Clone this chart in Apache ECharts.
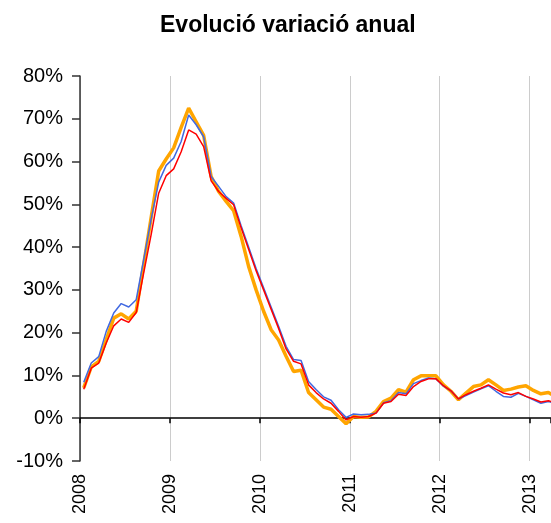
<!DOCTYPE html>
<html>
<head>
<meta charset="utf-8">
<script src="https://cdn.jsdelivr.net/npm/echarts@6/dist/echarts.min.js"></script>
<style>
html,body{margin:0;padding:0;background:#fff;}
#chart{width:551px;height:523px;}
</style>
</head>
<body>
<div id="chart"></div>
<script>
// Monthly values, Jan 2008 .. Apr 2013 (percent)
var yearLabels = ['2008','2009','2010','2011','2012','2013'];
var blueValues = [8.4,12.9,14.4,20.3,24.6,26.8,26.0,27.7,37.1,46.6,
  55.2,59.1,60.8,64.7,70.9,68.6,65.8,56.5,54.2,51.8,
  50.3,45.0,40.0,35.0,30.5,26.0,21.5,16.8,13.7,13.5,
  8.6,6.7,5.0,4.2,2.0,0.2,1.0,0.8,0.9,1.2,
  3.6,4.1,6.0,5.7,8.1,8.8,9.4,9.2,7.5,6.4,
  4.5,5.3,6.1,6.9,7.6,6.3,5.1,4.9,5.8,5.1,
  4.3,3.5,3.9,3.5];
var redValues = [6.8,11.7,12.9,17.6,21.6,23.2,22.4,24.7,34.0,43.0,
  52.6,56.7,58.3,62.3,67.4,66.4,63.5,55.5,53.0,51.4,
  49.9,44.5,39.5,34.5,30.0,25.5,21.0,16.2,13.3,12.7,
  7.8,6.0,4.5,3.5,1.6,-0.4,0.4,0.2,0.4,1.2,
  3.5,3.9,5.6,5.3,7.4,8.6,9.2,9.2,7.6,6.4,
  4.5,5.5,6.3,7.0,7.8,6.8,5.9,5.5,6.0,5.1,
  4.5,3.8,4.1,3.6];
var orangeValues = [7.1,12.0,13.3,18.3,23.4,24.4,23.2,25.0,36.0,47.0,
  57.8,60.6,63.2,68.0,72.5,69.3,66.1,56.5,53.0,50.7,
  48.5,42.5,35.5,30.0,25.0,20.7,18.3,14.5,10.9,11.2,
  6.0,4.3,2.6,2.1,0.4,-1.3,0.4,0.2,0.3,1.6,
  3.9,4.7,6.7,6.1,9.0,9.9,9.9,9.9,7.8,6.3,
  4.3,5.9,7.4,7.8,9.0,7.8,6.5,6.8,7.3,7.6,
  6.5,5.7,6.0,5.0];

function toPoints(arr){
  return arr.map(function(v,i){ return [i + 0.5, v]; });
}

var chart = echarts.init(document.getElementById('chart'), null, {renderer:'canvas'});
var font = 'Liberation Sans, Arial, Helvetica, sans-serif';
var xMax = 62.85;

chart.setOption({
  animation: false,
  backgroundColor: '#fff',
  title: {
    text: 'Evolució variació anual',
    left: 155, top: 9,
    textStyle: {fontFamily: font, fontWeight: 'bold', fontSize: 23, color: '#000'}
  },
  grid: {left: 80, right: 0, top: 76, bottom: 62},
  xAxis: [{
    type: 'value', min: 0, max: xMax, interval: 12,
    position: 'bottom',
    axisLine: {show: false, onZero: false},
    axisTick: {show: false},
    splitLine: {show: true, lineStyle: {color: '#cccccc', width: 1}},
    axisLabel: {
      rotate: 90, margin: 13, showMaxLabel: false,
      fontFamily: font, fontSize: 18, color: '#000',
      formatter: function(v){ var k = Math.round(v/12); return (Math.abs(v - k*12) < 0.01) ? yearLabels[k] : ''; }
    }
  },{
    type: 'value', min: 0, max: xMax, interval: 12,
    axisLine: {show: true, onZero: true, lineStyle: {color: '#000', width: 1.5}},
    axisTick: {show: true, inside: true, length: 5, lineStyle: {color: '#000', width: 1.5}},
    axisLabel: {show: false},
    splitLine: {show: false}
  }],
  yAxis: {
    type: 'value', min: -10, max: 80, interval: 10,
    axisLine: {show: true, lineStyle: {color: '#333', width: 1.5}},
    axisTick: {show: true, length: 8, lineStyle: {color: '#333', width: 1.5}},
    splitLine: {show: false},
    axisLabel: {margin: 17, fontFamily: font, fontSize: 20, color: '#000',
      formatter: function(v){ return v + '%'; }}
  },
  series: [
    {type: 'line', xAxisIndex: 0, data: toPoints(orangeValues), showSymbol: false,
     lineStyle: {color: '#ffa500', width: 3.5}, itemStyle: {color: '#ffa500'}},
    {type: 'line', xAxisIndex: 0, data: toPoints(blueValues), showSymbol: false,
     lineStyle: {color: '#4169e1', width: 1.5}, itemStyle: {color: '#4169e1'}},
    {type: 'line', xAxisIndex: 0, data: toPoints(redValues), showSymbol: false,
     lineStyle: {color: '#ff0000', width: 1.5}, itemStyle: {color: '#ff0000'}}
  ]
});
</script>
</body>
</html>
